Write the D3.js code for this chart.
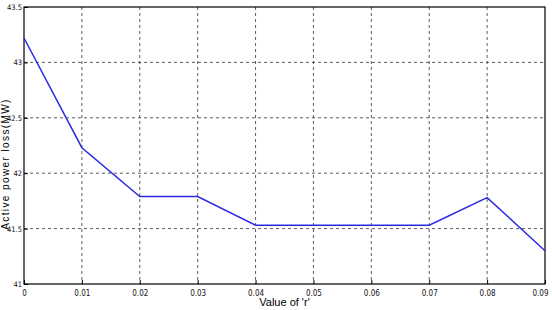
<!DOCTYPE html>
<html>
<head>
<meta charset="utf-8">
<script src="https://cdn.jsdelivr.net/npm/d3@7"></script>
<style>
  body { margin: 0; background: #fff; }
  svg { display: block; }
  .tick text { font-family: "Liberation Sans Narrow", "Arial Narrow", "DejaVu Sans Condensed", sans-serif; font-size: 8px; }
</style>
</head>
<body>
<svg id="chart" width="552" height="310"></svg>
<script>
"use strict";

// values
const rValues = [0, 0.01, 0.02, 0.03, 0.04, 0.05, 0.06, 0.07, 0.08, 0.09];
const lossValues = [43.22, 42.23, 41.79, 41.79, 41.53, 41.53, 41.53, 41.53, 41.78, 41.30];
const xTicks = [0, 0.01, 0.02, 0.03, 0.04, 0.05, 0.06, 0.07, 0.08, 0.09];
const yTicks = [41, 41.5, 42, 42.5, 43, 43.5];

const svg = d3.select("#chart");
const margin = { left: 24, right: 7, top: 7, bottom: 26 };
const width = 552 - margin.left - margin.right;
const height = 310 - margin.top - margin.bottom;

const g = svg.append("g").attr("transform", `translate(${margin.left},${margin.top})`);

const x = d3.scaleLinear().domain([0, 0.09]).range([0, width]);
const y = d3.scaleLinear().domain([41, 43.5]).range([height, 0]);

// dashed grid
g.append("g")
  .selectAll("line")
  .data(xTicks.slice(1, -1))
  .join("line")
  .attr("x1", d => x(d)).attr("x2", d => x(d))
  .attr("y1", 0).attr("y2", height)
  .attr("stroke", "#333").attr("stroke-width", 0.8)
  .attr("stroke-dasharray", "3,3");

g.append("g")
  .selectAll("line")
  .data(yTicks.slice(1, -1))
  .join("line")
  .attr("x1", 0).attr("x2", width)
  .attr("y1", d => y(d)).attr("y2", d => y(d))
  .attr("stroke", "#333").attr("stroke-width", 0.8)
  .attr("stroke-dasharray", "3,3");

// axes (ticks point inwards, like matlab)
const xAxis = g.append("g")
  .attr("transform", `translate(0,${height})`)
  .call(d3.axisBottom(x).tickValues(xTicks).tickFormat(d => d3.format("")(+d.toFixed(2))).tickSizeInner(-4).tickSizeOuter(0).tickPadding(6));

const yAxis = g.append("g")
  .call(d3.axisLeft(y).tickValues(yTicks).tickFormat(d => d).tickSizeInner(-4).tickSizeOuter(0).tickPadding(2));

[xAxis, yAxis].forEach(a => {
  a.select(".domain").remove();
  a.selectAll(".tick line").attr("stroke", "#000");
  a.selectAll(".tick text").attr("fill", "#111");
});
yAxis.selectAll(".tick text").style("font-size", "7.5px");

// last x label hugs the right edge
xAxis.selectAll(".tick text").filter(d => d === 0.09).attr("text-anchor", "end").attr("dx", "3");

// frame
g.append("rect")
  .attr("width", width).attr("height", height)
  .attr("fill", "none").attr("stroke", "#000").attr("stroke-width", 1.2);

// data line
const line = d3.line()
  .x((d, i) => x(rValues[i]))
  .y(d => y(d));

g.append("path")
  .datum(lossValues)
  .attr("fill", "none")
  .attr("stroke", "#2a2ae0")
  .attr("stroke-width", 1.5)
  .attr("d", line);

// labels
svg.append("text")
  .attr("x", margin.left + width / 2)
  .attr("y", 306)
  .attr("text-anchor", "middle")
  .style("font-family", "'Liberation Sans Narrow', 'Arial Narrow', sans-serif")
  .style("font-size", "11px")
  .text("Value of 'r'");

svg.append("text")
  .attr("transform", "translate(9,164) rotate(-90)")
  .attr("text-anchor", "middle")
  .style("font-family", "'Liberation Sans', Arial, sans-serif")
  .style("font-size", "10px")
  .style("letter-spacing", "1.4px")
  .text("Active power loss(MW)");
</script>
</body>
</html>
